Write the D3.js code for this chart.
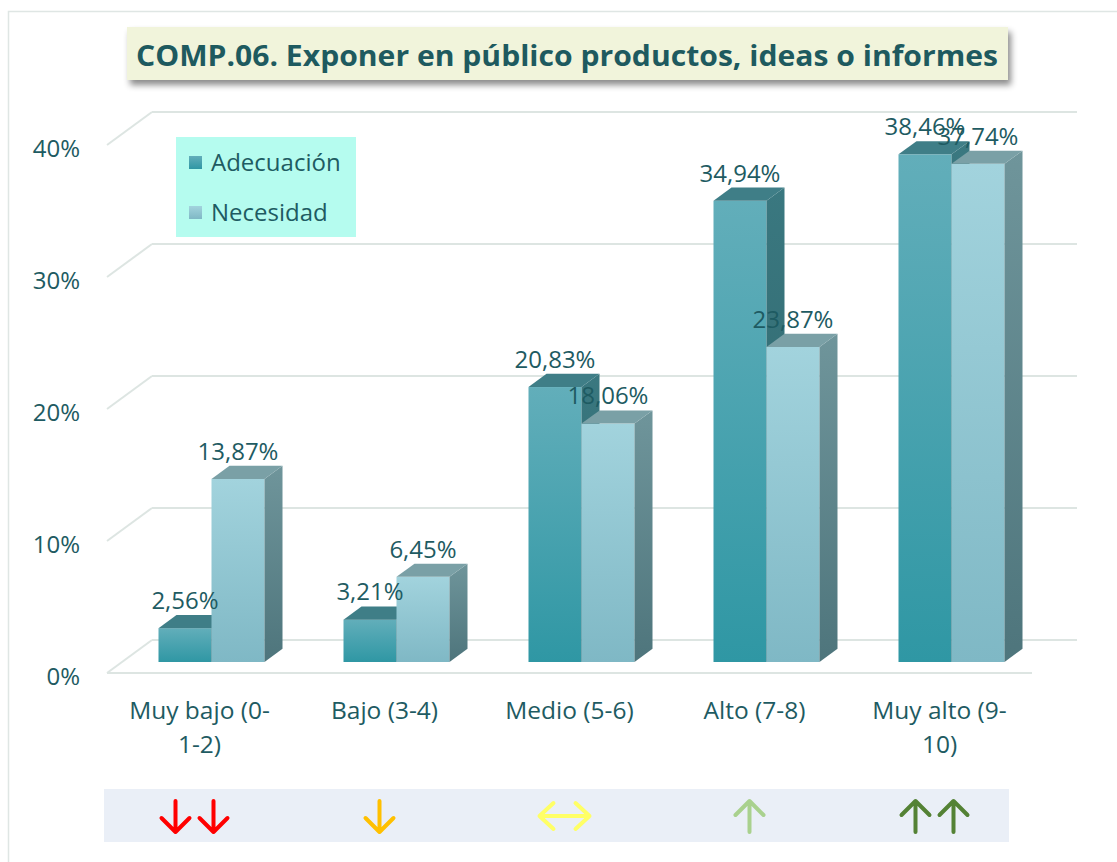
<!DOCTYPE html>
<html>
<head>
<meta charset="utf-8">
<script src="https://cdn.jsdelivr.net/npm/d3@7"></script>
<style>
  body { margin: 0; background: #fff; }
  svg text { font-family: "Open Sans", sans-serif; }
</style>
</head>
<body>
<script>
// data
var categories = ["Muy bajo (0-1-2)", "Bajo (3-4)", "Medio (5-6)", "Alto (7-8)", "Muy alto (9-10)"];
var categoryLines = [["Muy bajo (0-", "1-2)"], ["Bajo (3-4)"], ["Medio (5-6)"], ["Alto (7-8)"], ["Muy alto (9-", "10)"]];
var seriesNames = ["Adecuación", "Necesidad"];
var adecuacion = [2.56, 3.21, 20.83, 34.94, 38.46];
var necesidad = [13.87, 6.45, 18.06, 23.87, 37.74];
var tickValues = [0, 10, 20, 30, 40];
var arrowKinds = ["down2", "down", "both", "up", "up2"];
var arrowColors = ["#ff0000", "#ffc000", "#ffff66", "#a9d18e", "#548235"];
var title = "COMP.06. Exponer en público productos, ideas o informes";

var width = 1117, height = 862;
var textColor = "#1e5b62";
var gridColor = "#dde5e2";

var svg = d3.select("body").append("svg")
  .attr("width", width)
  .attr("height", height);

var defs = svg.append("defs");

function grad(id, top, bottom) {
  var g = defs.append("linearGradient").attr("id", id)
    .attr("x1", 0).attr("y1", 0).attr("x2", 0).attr("y2", 1);
  g.append("stop").attr("offset", "0%").attr("stop-color", top);
  g.append("stop").attr("offset", "100%").attr("stop-color", bottom);
}
grad("adFront", "#62aeba", "#2f97a4");
grad("adSide", "#3a7880", "#2e6369");
grad("neFront", "#a2d3dd", "#7fb8c5");
grad("neSide", "#6f959b", "#4e757c");

var shadow = defs.append("filter").attr("id", "shadow")
  .attr("x", "-5%").attr("y", "-30%").attr("width", "110%").attr("height", "170%");
shadow.append("feDropShadow").attr("dx", 3).attr("dy", 5)
  .attr("stdDeviation", 3).attr("flood-color", "#000").attr("flood-opacity", 0.45);

// outer border
svg.append("rect")
  .attr("x", 8.5).attr("y", 11.5)
  .attr("width", 1115).attr("height", 860)
  .attr("fill", "none").attr("stroke", "#dfe6e4").attr("stroke-width", 1.5);

// scales
var x = d3.scaleBand().domain(categories).range([107, 1032]);
var xs = d3.scaleBand().domain(seriesNames).range([0, 106]);
var y = d3.scaleLinear().domain([0, 40]).range([673, 145]);

// oblique depth
var depthX = 45, depthY = -33;
function off(d) { return [depthX * d, depthY * d]; }

// gridlines: back wall + left diagonal
var grid = svg.append("g");
tickValues.forEach(function(v) {
  var b = off(1);
  grid.append("line")
    .attr("x1", 107 + b[0]).attr("x2", x.range()[1] + b[0])
    .attr("y1", y(v) + b[1]).attr("y2", y(v) + b[1])
    .attr("stroke", gridColor).attr("stroke-width", 2);
  grid.append("line")
    .attr("x1", 107).attr("y1", y(v))
    .attr("x2", 107 + b[0]).attr("y2", y(v) + b[1])
    .attr("stroke", gridColor).attr("stroke-width", 2);
});
grid.append("line")
  .attr("x1", x.range()[0]).attr("x2", x.range()[1])
  .attr("y1", y(0)).attr("y2", y(0))
  .attr("stroke", gridColor).attr("stroke-width", 2);

// y tick labels
svg.append("g").selectAll("text")
  .data(tickValues).enter().append("text")
  .attr("x", 80)
  .attr("y", function(d) { return y(d) + 12; })
  .attr("text-anchor", "end")
  .attr("font-size", 24)
  .attr("fill", textColor)
  .text(function(d) { return d + "%"; });

// bars
var barFront = off(1 / 3), barDepth = off(0.4);
var bars = [];
categories.forEach(function(c, i) {
  bars.push({ cat: c, s: seriesNames[0], v: adecuacion[i], front: "url(#adFront)", side: "url(#adSide)", top: "#3f7e87" });
  bars.push({ cat: c, s: seriesNames[1], v: necesidad[i], front: "url(#neFront)", side: "url(#neSide)", top: "#7aa0a6" });
});

function bx(d) { return x(d.cat) + x.bandwidth() / 2 - 56 + barFront[0] + xs(d.s); }
function by(d) { return y(d.v) + barFront[1]; }
var base = y(0) + barFront[1];
var bw = xs.bandwidth();

var barG = svg.append("g").selectAll("g").data(bars).enter().append("g");
barG.append("rect")
  .attr("x", bx).attr("y", by)
  .attr("width", bw)
  .attr("height", function(d) { return base - by(d); })
  .attr("fill", function(d) { return d.front; });
barG.append("path")
  .attr("d", function(d) {
    var x0 = bx(d) + bw, y0 = by(d);
    return "M" + x0 + "," + y0 + "L" + (x0 + barDepth[0]) + "," + (y0 + barDepth[1]) +
      "L" + (x0 + barDepth[0]) + "," + (base + barDepth[1]) + "L" + x0 + "," + base + "Z";
  })
  .attr("fill", function(d) { return d.side; });
barG.append("path")
  .attr("d", function(d) {
    var x0 = bx(d), y0 = by(d);
    return "M" + x0 + "," + y0 + "L" + (x0 + bw) + "," + y0 +
      "L" + (x0 + bw + barDepth[0]) + "," + (y0 + barDepth[1]) +
      "L" + (x0 + barDepth[0]) + "," + (y0 + barDepth[1]) + "Z";
  })
  .attr("fill", function(d) { return d.top; });

// data labels
svg.append("g").selectAll("text")
  .data(bars).enter().append("text")
  .attr("x", function(d) { return bx(d) + bw / 2; })
  .attr("y", function(d) { return by(d) + barDepth[1] - 6; })
  .attr("text-anchor", "middle")
  .attr("font-size", 24)
  .attr("fill", textColor)
  .text(function(d) { return d.v.toFixed(2).replace(".", ",") + "%"; });

// category labels
var catG = svg.append("g").selectAll("text")
  .data(categories).enter().append("text")
  .attr("text-anchor", "middle")
  .attr("font-size", 24.5)
  .attr("fill", textColor);
catG.selectAll("tspan")
  .data(function(d, i) { return categoryLines[i].map(function(t) { return { t: t, c: d }; }); })
  .enter().append("tspan")
  .attr("x", function(d) { return x(d.c) + x.bandwidth() / 2; })
  .attr("y", function(d, j) { return 719 + j * 34; })
  .text(function(d) { return d.t; });

// legend
var legend = svg.append("g");
legend.append("rect")
  .attr("x", 176).attr("y", 137).attr("width", 180).attr("height", 100)
  .attr("fill", "#b5fcef");
seriesNames.forEach(function(s, i) {
  legend.append("rect")
    .attr("x", 189).attr("y", 156 + i * 50)
    .attr("width", 13).attr("height", 13)
    .attr("fill", i === 0 ? "url(#adFront)" : "url(#neFront)");
  legend.append("text")
    .attr("x", 211).attr("y", 171 + i * 50)
    .attr("font-size", 24)
    .attr("fill", textColor)
    .text(s);
});

// title
svg.append("rect")
  .attr("x", 127).attr("y", 27).attr("width", 881).attr("height", 53)
  .attr("fill", "#f1f4db")
  .attr("filter", "url(#shadow)");
svg.append("text")
  .attr("x", 136).attr("y", 66)
  .attr("font-size", 29)
  .attr("font-weight", "bold")
  .attr("fill", "#1e5a5f")
  .attr("textLength", 862)
  .attr("lengthAdjust", "spacingAndGlyphs")
  .text(title);

// arrow strip
svg.append("rect")
  .attr("x", 104).attr("y", 789).attr("width", 905).attr("height", 53)
  .attr("fill", "#eaeff7");

var ay0 = 801, ay1 = 832, arm = 14;
function vArrow(cx, dir) {
  var tip = dir > 0 ? ay1 : ay0;
  return "M" + cx + "," + ay0 + "L" + cx + "," + ay1 +
    "M" + (cx - arm) + "," + (tip - dir * arm) + "L" + cx + "," + tip + "L" + (cx + arm) + "," + (tip - dir * arm);
}
function hArrow(cx) {
  var l = cx - 25, r = cx + 25, my = 816;
  return "M" + l + "," + my + "L" + r + "," + my +
    "M" + (l + 14) + "," + (my - 13) + "L" + l + "," + my + "L" + (l + 14) + "," + (my + 13) +
    "M" + (r - 14) + "," + (my - 13) + "L" + r + "," + my + "L" + (r - 14) + "," + (my + 13);
}
svg.append("g").selectAll("path")
  .data(categories).enter().append("path")
  .attr("d", function(c, i) {
    var cx = x(c) + x.bandwidth() / 2 - 5;
    var k = arrowKinds[i];
    if (k === "down2") return vArrow(cx - 19, 1) + vArrow(cx + 19, 1);
    if (k === "down") return vArrow(cx, 1);
    if (k === "both") return hArrow(cx);
    if (k === "up") return vArrow(cx, -1);
    return vArrow(cx - 19, -1) + vArrow(cx + 19, -1);
  })
  .attr("fill", "none")
  .attr("stroke", function(c, i) { return arrowColors[i]; })
  .attr("stroke-width", 4)
  .attr("stroke-linejoin", "round")
  .attr("stroke-linecap", "round");
</script>
</body>
</html>
